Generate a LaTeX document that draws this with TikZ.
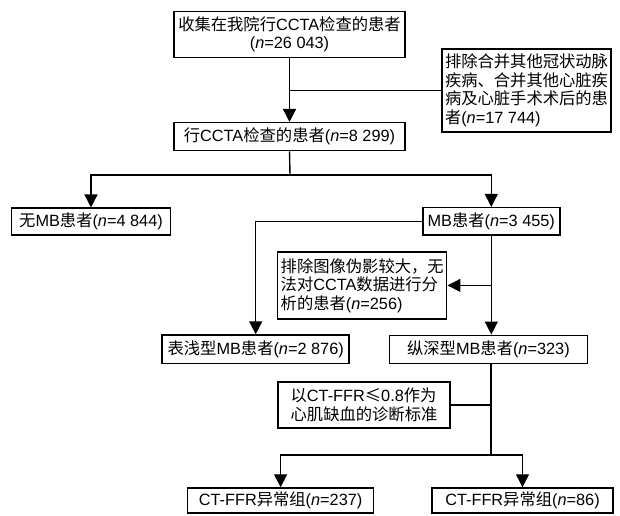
\documentclass[tikz,border=0pt]{standalone}
\usepackage{fontspec}
\setmainfont{Liberation Sans}
\newfontfamily\cjk{Noto Sans CJK SC}
\usetikzlibrary{arrows.meta}
\newcommand\zh[1]{{\cjk #1}}
\newcommand\fsz{\fontsize{16.3pt}{18.5pt}\selectfont}
\tikzset{
  box/.style={draw, line width=1.5pt, inner sep=0pt, font=\fsz, align=center},
  lbox/.style={box, align=left},
  ln/.style={line width=1.4pt},
  arr/.style={-{Triangle[width=13pt,length=13pt]}},
}
\begin{document}
\begin{tikzpicture}[x=1pt,y=-1pt]
\useasboundingbox (0,0) rectangle (620,515);
\node[box, minimum width=231pt, minimum height=46pt] (b1) at (289.5,34.4)
  {\zh{收集在我院行}CCTA\zh{检查的患者}\\(\textit{n}=26 043)};
\node[lbox, minimum width=169pt, minimum height=83pt] (ex1) at (526.5,90.5)
  {\zh{排除合并其他冠状动脉}\\\zh{疾病、合并其他心脏疾}\\\zh{病及心脏手术术后的患}\\\zh{者}(\textit{n}=17 744)};
\node[box, minimum width=231pt, minimum height=28pt] (b2) at (289.5,136.7)
  {\zh{行}CCTA\zh{检查的患者}(\textit{n}=8 299)};
\node[box, minimum width=159pt, minimum height=27pt] (noMB) at (91,221.7)
  {\zh{无}MB\zh{患者}(\textit{n}=4 844)};
\node[box, minimum width=137pt, minimum height=27.5pt] (MB) at (491.3,221.4)
  {MB\zh{患者}(\textit{n}=3 455)};
\node[lbox, minimum width=169pt, minimum height=67.3pt] (ex2) at (362.2,285.4)
  {\zh{排除图像伪影较大，无}\\\zh{法对}CCTA\zh{数据进行分}\\\zh{析的患者}(\textit{n}=256)};
\node[box, minimum width=187pt, minimum height=28.3pt] (shallow) at (255.7,349.2)
  {\zh{表浅型}MB\zh{患者}(\textit{n}=2 876)};
\node[box, minimum width=198pt, minimum height=28pt] (deep) at (488.4,349.3)
  {\zh{纵深型}MB\zh{患者}(\textit{n}=323)};
\node[lbox, minimum width=172pt, minimum height=46pt] (crit) at (364,405)
  {\zh{以}CT-FFR\zh{≤}0.8\zh{作为}\\\zh{心肌缺血的诊断标准}};
\node[box, minimum width=186pt, minimum height=25pt] (ab1) at (280.6,500.5)
  {CT-FFR\zh{异常组}(\textit{n}=237)};
\node[box, minimum width=181pt, minimum height=25pt] (ab2) at (522.5,500.5)
  {CT-FFR\zh{异常组}(\textit{n}=86)};
\coordinate (j1) at (290,175);
\coordinate (j2) at (491,455);
\draw[ln,arr] (b1.south) -- (b2.north);
\draw[ln] (b1.south |- ex1.west) -- (ex1.west);
\draw[ln] (b2.south) -- (j1);
\draw[ln,arr] (j1) -| (noMB.north);
\draw[ln,arr] (j1) -| (MB.north);
\draw[ln,arr] (MB.west) -| (shallow.north);
\draw[ln,arr] (MB.south) -- (MB.south |- deep.north);
\draw[ln,arr] (MB.south |- ex2.east) -- (ex2.east);
\draw[ln] (j2 |- deep.south) -- (j2);
\draw[ln] (j2 |- crit.east) -- (crit.east);
\draw[ln,arr] (j2) -| (ab1.north);
\draw[ln,arr] (j2) -| (ab2.north);
\end{tikzpicture}
\end{document}
